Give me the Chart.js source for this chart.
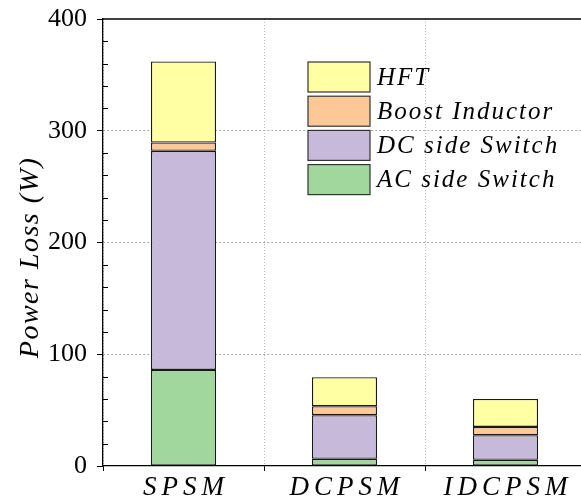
<!DOCTYPE html>
<html>
<head>
<meta charset="utf-8">
<script src="https://cdn.jsdelivr.net/npm/chart.js@4.4.0/dist/chart.umd.min.js"></script>
<style>
  html, body { margin: 0; padding: 0; overflow: hidden; background: #fff; }
  canvas { display: block; }
</style>
</head>
<body>
<canvas id="lossChart" width="590" height="502"></canvas>
<script>
// Data (W)
const categories = ['SPSM', 'DCPSM', 'IDCPSM'];
const acSwitch = [86, 6.5, 5.5];
const dcSwitch = [196, 39, 22];
const boostInductor = [7.5, 8, 7.5];
const hft = [72.5, 26, 25];
const yTicks = [0, 100, 200, 300, 400];
const minorStep = 20;

const seriesLabels = ['AC side Switch', 'DC side Switch', 'Boost Inductor', 'HFT'];
const seriesColors = ['#a1d69c', '#c6b9d9', '#fdc897', '#ffffa3'];

const SERIF = "'Liberation Serif'";

function makeSet(label, data, color) {
    return {
        label: label,
        data: data,
        backgroundColor: color,
        borderColor: '#1a1a1a',
        borderWidth: 1.3,
        borderSkipped: false,
        barPercentage: 0.404,
        categoryPercentage: 1.0
    };
}

// Custom drawing: top frame, minor ticks, x labels, y title, legend
const decorPlugin = {
    id: 'decor',
    afterDraw(chart) {
        const ctx = chart.ctx;
        const area = chart.chartArea;
        const y = chart.scales.y;
        const x = chart.scales.x;

        ctx.save();
        ctx.strokeStyle = '#000';
        ctx.lineWidth = 1.3;
        ctx.beginPath();
        ctx.moveTo(area.left, area.top);
        ctx.lineTo(area.right, area.top);
        ctx.stroke();

        // minor ticks pointing inward
        ctx.lineWidth = 1;
        for (let v = 0; v <= y.max; v += minorStep) {
            if (v % 100 === 0) continue;
            const py = Math.round(y.getPixelForValue(v)) + 0.5;
            ctx.beginPath();
            ctx.moveTo(area.left, py);
            ctx.lineTo(area.left + 5, py);
            ctx.stroke();
        }

        // category labels
        ctx.fillStyle = '#000';
        ctx.font = 'italic 27px ' + SERIF;
        ctx.letterSpacing = '5px';
        ctx.textAlign = 'center';
        ctx.textBaseline = 'alphabetic';
        categories.forEach((c, i) => {
            ctx.fillText(c, x.getPixelForValue(i) + 2.5, area.bottom + 29);
        });

        // y title
        ctx.letterSpacing = '1.5px';
        ctx.font = 'italic 28px ' + SERIF;
        ctx.translate(area.left - 65, (area.top + area.bottom) / 2 + 15);
        ctx.rotate(-Math.PI / 2);
        ctx.textAlign = 'center';
        ctx.textBaseline = 'alphabetic';
        ctx.fillText('Power Loss (W)', 0, 0);
        ctx.restore();

        // legend, reversed order
        ctx.save();
        const boxX = area.left + 205;
        const boxY = area.top + 43;
        const boxW = 62, boxH = 30, pitch = 34.2;
        ctx.font = 'italic 25px ' + SERIF;
        ctx.letterSpacing = '2px';
        ctx.textBaseline = 'middle';
        ctx.textAlign = 'left';
        const sets = chart.data.datasets.slice().reverse();
        sets.forEach((ds, i) => {
            const top = boxY + i * pitch;
            ctx.fillStyle = ds.backgroundColor;
            ctx.fillRect(boxX, top, boxW, boxH);
            ctx.strokeStyle = '#333';
            ctx.lineWidth = 1.2;
            ctx.strokeRect(boxX, top, boxW, boxH);
            ctx.fillStyle = '#000';
            ctx.fillText(ds.label, boxX + boxW + 7, top + boxH / 2 + 1);
        });
        ctx.restore();
    }
};

function drawChart() {
    new Chart(document.getElementById('lossChart'), {
        type: 'bar',
        data: {
            labels: categories,
            datasets: [
                makeSet(seriesLabels[0], acSwitch, seriesColors[0]),
                makeSet(seriesLabels[1], dcSwitch, seriesColors[1]),
                makeSet(seriesLabels[2], boostInductor, seriesColors[2]),
                makeSet(seriesLabels[3], hft, seriesColors[3])
            ]
        },
        options: {
            responsive: false,
            animation: false,
            devicePixelRatio: 1,
            layout: { padding: { left: 0, right: 4, top: 19, bottom: 0 } },
            plugins: {
                legend: { display: false },
                tooltip: { enabled: false }
            },
            scales: {
                x: {
                    stacked: true,
                    afterFit(scale) {
                        scale.height = 36;
                        scale.paddingLeft = 0;
                        scale.paddingRight = 0;
                    },
                    ticks: { display: false },
                    grid: {
                        color: '#b8b8b8',
                        lineWidth: 1,
                        tickColor: '#000',
                        tickLength: 5,
                        tickBorderDash: []
                    },
                    border: { display: true, color: '#000', width: 1.3, dash: [1, 2] }
                },
                y: {
                    stacked: true,
                    min: 0,
                    max: 400,
                    afterFit(scale) {
                        scale.width = 103;
                        scale.paddingTop = 0;
                        scale.paddingBottom = 0;
                    },
                    afterBuildTicks(scale) {
                        scale.ticks = yTicks.map(v => ({ value: v }));
                    },
                    ticks: {
                        color: '#000',
                        padding: 10,
                        font: { family: SERIF, size: 26 }
                    },
                    grid: {
                        color: (c) => (c.tick && (c.tick.value === 0 || c.tick.value === 400)) ? 'rgba(0,0,0,0)' : '#a8a8a8',
                        lineWidth: 1,
                        tickColor: '#000',
                        tickLength: 6,
                        tickBorderDash: []
                    },
                    border: { display: true, color: '#000', width: 1.3, dash: [2, 2] }
                }
            }
        },
        plugins: [decorPlugin]
    });
}

Promise.all([
    document.fonts.load("26px 'Liberation Serif'"),
    document.fonts.load("italic 25px 'Liberation Serif'")
]).then(drawChart, drawChart);
</script>
</body>
</html>
